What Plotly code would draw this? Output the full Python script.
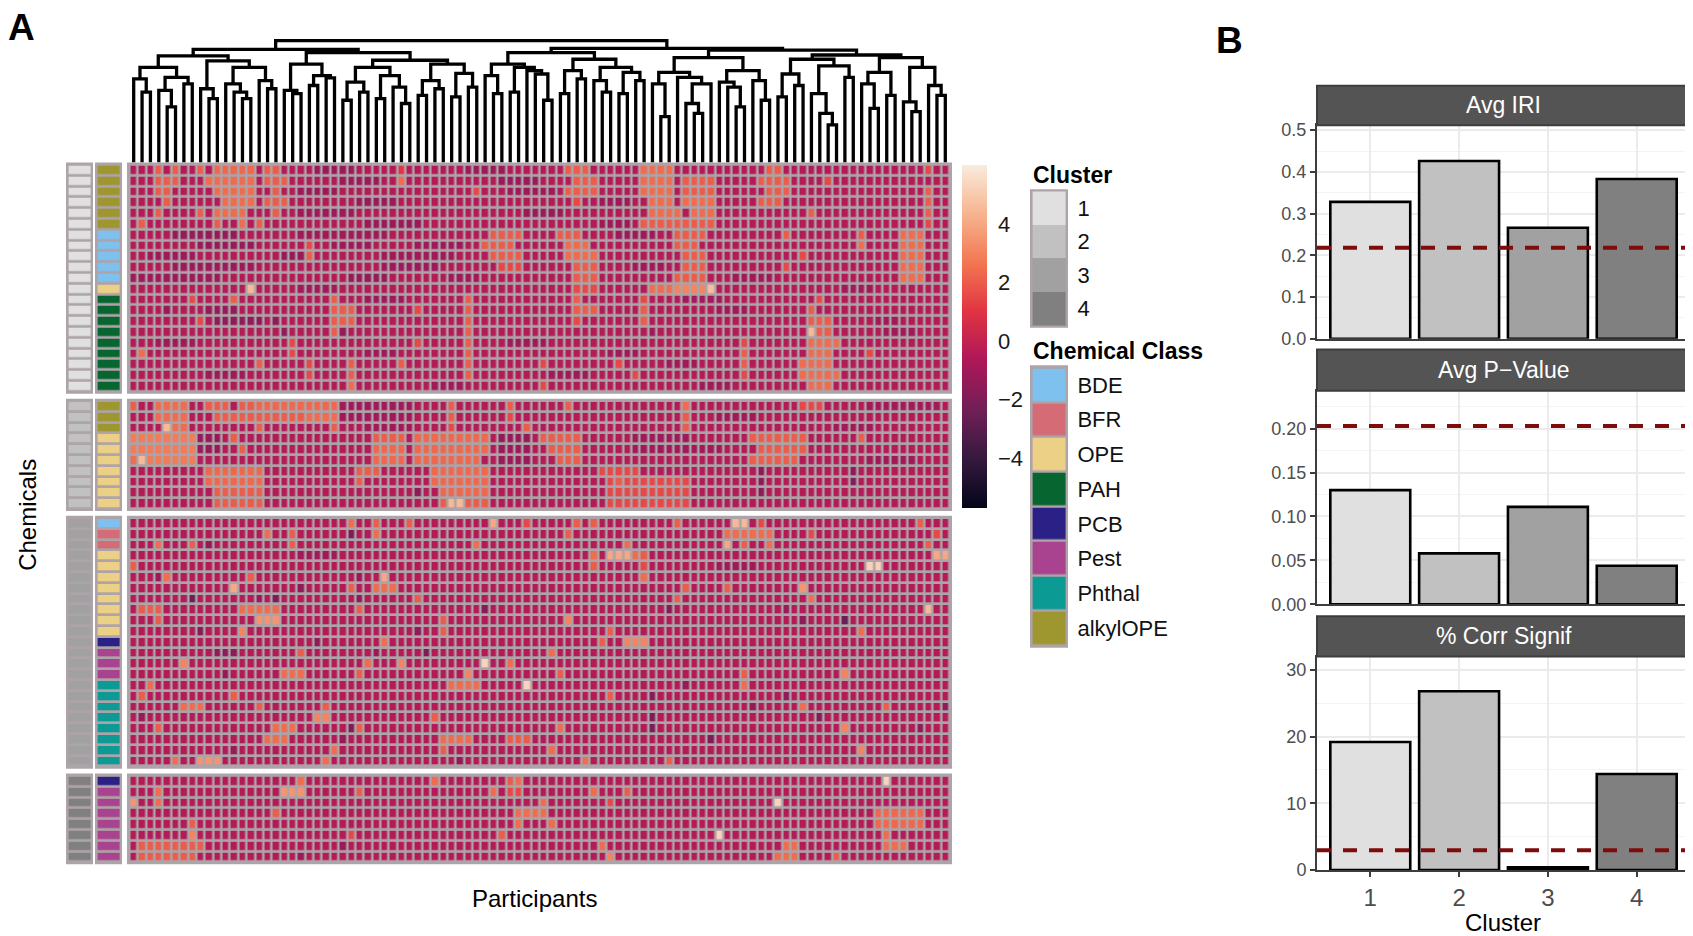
"""Clustered exposure heatmap (panel A) with per-cluster summary bars (panel B)."""
import plotly.graph_objects as go

W, H = 1693, 936
OFF = 8            # the page body margin shifts the figure by this many px
FONT = "Liberation Sans, Arial, sans-serif"

# ---- data -----------------------------------------------------------------
N_COLS = 98                      # participants
CLUSTERS = ["1", "2", "3", "4"]
CLUSTER_COLORS = ["#e0e0e0", "#c1c1c1", "#a1a1a1", "#808080"]
CLASSES = ["BDE", "BFR", "OPE", "PAH", "PCB", "Pest", "Phthal", "alkylOPE"]
CLASS_COLORS = ["#7fc1ee", "#d56b75", "#ecd085", "#07652f",
                "#2b2085", "#a9438f", "#0c9a95", "#9e962f"]

ROW_CLASSES = [
    ["alkylOPE"] * 6 + ["BDE"] * 5 + ["OPE"] + ["PAH"] * 9,
    ["alkylOPE"] * 3 + ["OPE"] * 7,
    ["BDE"] + ["BFR"] * 2 + ["OPE"] * 8 + ["PCB"] + ["Pest"] * 3 + ["Phthal"] * 8,
    ["PCB"] + ["Pest"] * 7,
]

BASE_Z = -0.45   # value of cells not listed below
# per row: "col:z" or "from-to:z"
CELLS_C1 = [
    "3:2 5:2 8:2 10-14:2.3 16-17:2 22-26:-1.2 32:1 40-44:-1.1 52-54:2 61-64:2.4 76-77:2 95:1.5",
    "3-5:2 9-14:2.4 16-18:2 25-29:-1.1 32:2.4 44-48:-1.2 53-55:2 61-64:2.4 66-69:2 75-78:2 83:1.5",
    "3-4:2 10-14:2.4 17:2 20-24:-1.2 41:1.5 45-50:-1.1 52-55:2 61-64:2.4 66-69:2 76-78:2 95:2",
    "4:2 11-14:2.4 16-18:2 27-31:-1.2 53:1.5 56-59:-1.1 62-64:2.4 66-69:2.4 75-77:2 95:2",
    "3:2 8:2 10-13:2.4 17:2 20-26:-1.1 47-51:-1.2 62-65:2.4 67-69:2.4 81:2 95:2",
    "1:2 10:2 13:2.4 15:2 28-34:-1.2 56-59:-1.1 61-65:2 66-69:2 95:1.5",
    "5-12:-1.3 20-30:-1 43-46:2 51-53:2 58-62:-1.1 65-68:2 78:2 87:2 92-94:2.4",
    "8-14:-1.3 21:1.5 24-28:-1.1 34-39:-1.1 42-45:2 52-54:2.4 65-67:2 87:2.4 92-94:2.4",
    "2-7:-1.1 18-20:-1.3 21:2 30-38:-1 43-46:2 52-55:2.4 66-68:2 80:1.5 92-94:2.4",
    "5-14:-1.1 30-36:-1.1 44-46:1.5 53-55:2 60-63:-1 66-68:2 78:1.5 92-94:2.4",
    "0-10:-1.1 26-30:-1.3 38-41:-1 53-55:2 65-68:2 72-76:-1 92-94:2.4",
    "14:4.5 20-24:-1 53-55:1.5 62-64:2.4 65-68:3 69:4.6 85-88:-1",
    "7:1.5 12:2 24:2 28-32:-1.1 40:2 53:2 61:1.5 66-70:-1 82:1.5",
    "4:-1.3 9-12:-1.3 24-26:2 34:1.5 40:2 53-55:2 61:2 70-73:-1 81:2",
    "8:1.5 10-15:-1.5 17:-1.5 24-26:2 40:2 53:1.5 61:2 81-83:2 89-91:-1",
    "18:-1.5 24:2 25:-1.3 40:2 62:-1.1 81:4.5 82-83:2 90-93:-1",
    "3-7:-1 19:1.5 34:1.5 40:2 45-49:-1 73:1.5 81-84:2.4",
    "1:2.4 19:1.5 28-31:-1 40:2 57-60:-1 73:2 81-83:2.4 88:1.5",
    "15:2 21:1.5 26:2 32:2 40:2 49:1.5 58:1.5 64-67:-1 73:2 80-83:2.4",
    "9-13:-1 21:1.5 26:2 40:2 50-54:-1 60:1.5 73:1.5 80-84:2.4",
    "26:2.4 36-39:-1 49:1.5 68-71:-1 81-83:2.4",
]
CELLS_C2 = [
    "0:2 3-6:2.4 9-11:2 13-14:2 15-24:2.3 25-33:-1 38:2 45:2 52:2 66:2.4 80-82:1.5 88-96:-0.9",
    "3-6:2.4 10-14:2 15-20:2 21-24:2.4 25-33:-1 38:2 45:1.5 66:2 70-74:-1",
    "4:4.5 5-6:2.4 15:2 24:2 28-33:-1 38:1.5 47:2 66:2 84-88:-1",
    "0-7:2.8 8-10:-1.3 12:2 29-32:2 34-42:2.3 44-47:-1.3 49-53:2 60-66:-1 74-80:2 87:2",
    "0-7:2.8 8-10:-1.3 13:2 29-32:2.3 34-42:2.3 44-47:-1.2 50-53:2 60-70:-1 75-80:2",
    "0:2.4 1:4.5 2-7:2.8 29-32:2.3 34-41:2.3 44-47:-1.2 51-53:2 74-79:2 88-93:-1",
    "9-15:2.3 27-29:2 36-42:2.3 56-60:1.5 75:-1.6 86:-1.6",
    "9-15:2.3 27:2 36-42:2.3 57-66:1.5 58:2 75:-1.6 86:-1.9",
    "10-15:2 34:-1.6 37-42:2.3 57-66:1.5 75:-1.6",
    "10-14:2 15:2 37:2 38-39:4.5 40-42:2 57-66:1.5",
]
CELLS_C3 = [
    "26:2.4 29:2 33:2 43:4 47:1.5 53:2 55:2 65:2 72-73:4.5 75:1.5 94:2",
    "16:2.4 19:2 26:-2 29:2.4 52:2 71-73:2.4 74-76:2.4 81:1.5 96:1.5",
    "3:2.4 7:2 9:-1.5 19:2 41:2.4 59:2.4 71:4 73:2 76:2.4 95:2",
    "20-24:-1 55:2.4 57-59:4 60:2.4 61:2 96-97:4",
    "0:2 55:2 61:1.5 70-74:-1 88-89:5.2",
    "3:-1.2 4:2.4 14:2 27:-1.2 30:4 61:2.4",
    "12:4 20:-1.5 26:2 29-31:2.4 66:2 71:2 80:3.5",
    "7:-2.5 15:-1.2 17:-2 27:-1.5 34:2 65:2 81:2.4",
    "1-3:2 13-17:2.4 27:2 42:-1.8 64:-1.8 78:-1.2 95:4.5",
    "3:2 15-17:3.5 37:2 52:3 80:-1.5 85:-2.5",
    "8:-1.8 13:3 34:-1.5 37:2 57:2 87:2.4",
    "22:-1.5 30:2.4 56:2 59-61:3",
    "10-12:-1.5 20:2 29:-1.2 35:-2 50:2.4",
    "6:3 28:2.4 32:3 42:5.3 45:2.4",
    "11:-1.3 18-20:2.4 27:2 40:3 51:2 73:2 85:3",
    "2:2.4 38-41:2.4 47:5.3 66:-1.2 73:2.4",
    "1:2 12:2 57:2 62:-1.8 78:-1.5",
    "6-8:2.4 15:2 23:2 74:-1.5 80:2.4 90:2 97:-1.5",
    "1:-1.2 22-23:3 36:2 62:-2 82:-1.8",
    "3:2 17-19:2.4 26:-2 27:2 51:2.4 62:-2 85:3 94:-1.5",
    "16-18:2.4 25:-1.3 37-40:2.4 45-47:2 69:-2",
    "12:-1.2 24:2.4 37:2 50:2.4 87:3",
    "5:2.4 8-10:3.5 23:2.4 39:-1.3 54:2.4 64:2",
]
CELLS_C4 = [
    "20:2.4 36:2.4 45:2 46:2.4 90:5.3",
    "3:2.4 18-20:3.5 27:2 43:2.4 45-46:1.5 55:2.4 59:2",
    "0:3.5 3:2.4 49:2.4 57:1.5 77:5.3",
    "17:2 46-49:2.4 89-94:2.3",
    "7:2 46:2.4 50:2.4 89-94:2.3",
    "7:3 26:1.5 44:2 70:5.3 90:2.4",
    "1-8:2 25:-1.2 56:2.4 78-79:2.4 90-92:2.4",
    "1-7:2 20:-1.2 57:3 77-79:2.4 84:2",
]
CELLS = [CELLS_C1, CELLS_C2, CELLS_C3, CELLS_C4]

# participant dendrogram: [left, right, height]; ints are leaf columns
TREE = [
    [[[[0, [1, 2, 215], 255], [[3, [4, 5, 170], 220], [6, 7, 240], 260], 290],
      [[8, [9, 10, 195], 225],
       [[11, [12, [13, 14, 195], 215], 240], [15, [16, 17, 225], 250], 290], 310], 325],
     [[[18, [19, 20, 210], 220], [[21, 22, 235], [23, 24, 258], 265], 300],
      [[[[25, 26, 190], [27, 28, 215], 245], [[29, 30, 195], [31, [32, 33, 180], 230], 265], 290],
       [[[34, 35, 205], [36, 37, 225], 250], [[38, 39, 200], [40, 41, 230], 272], 300], 312], 335],
     345],
    [[[[42, [43, 44, 210], 265], [[45, 46, 215], [47, [48, [49, 50, 190], 270], 280], 290], 300],
      [[[51, 52, 210], [53, 54, 255], 280],
       [[55, [56, 57, 215], 250], [[58, 59, 210], [60, 61, 250], 275], 290], 315], 335],
     [[[[62, [63, 64, 140], 240], [65, [[66, [67, 68, 150], 180], 69, 240], 260], 275],
       [[70, [71, [72, 73, 170], 230], 245], [74, [75, 76, 190], 250], 280], 320],
      [[[[77, 78, 200], [79, 80, 235], 270], [[81, [82, [83, 84, 115], 150], 210], [85, 86, 260], 295], 315],
       [[[87, [88, 89, 165], 240], [90, 91, 205], 275],
        [[92, [93, 94, 155], 185], [95, [96, 97, 205], 235], 290], 320], 328], 343],
     348],
    372,
]

# panel B
METRICS = ["Avg IRI", "Avg P\u2212Value", "% Corr Signif"]
AVG_IRI = [0.328, 0.426, 0.266, 0.383]
AVG_P = [0.130, 0.058, 0.111, 0.044]
PCT_CORR = [19.2, 26.8, 0.4, 14.4]
METRIC_VALUES = [AVG_IRI, AVG_P, PCT_CORR]
NULL_LEVEL = [0.218, 0.203, 2.95]

ROCKET = [[0.0, "#03051a"], [1 / 7, "#35193e"], [2 / 7, "#701f57"], [3 / 7, "#ad1759"],
          [4 / 7, "#e13342"], [5 / 7, "#f37651"], [6 / 7, "#f6b48f"], [1.0, "#faebdd"]]
Z_MIN, Z_MAX = -5.7, 6.0


# ---- helpers (positions are given as page pixels) ------------------------
def fx(p):
    return (p - OFF) / W


def fy(p):
    return 1 - (p - OFF) / H


def xdom(a, b):
    return [fx(a), fx(b)]


def ydom(top, bottom):
    return [fy(bottom), fy(top)]


def parse_rows(specs):
    z = []
    for spec in specs:
        row = [BASE_Z] * N_COLS
        for tok in spec.split():
            cols, val = tok.split(":")
            a, _, b = cols.partition("-")
            for c in range(int(a), int(b or a) + 1):
                row[c] = float(val)
        z.append(row)
    return z


def step_scale(colors):
    n = len(colors)
    out = []
    for i, c in enumerate(colors):
        out += [[i / n, c], [(i + 1) / n, c]]
    return out


def tree_lines(node, xs, ys):
    if isinstance(node, int):
        return float(node), 0.0
    left, right, h = node
    xl, hl = tree_lines(left, xs, ys)
    xr, hr = tree_lines(right, xs, ys)
    xs += [xl, xl, xr, xr, None]
    ys += [hl, h, h, hr, None]
    return (xl + xr) / 2, h


def rect(x0, x1, top, bottom, **kw):
    return dict(type="rect", xref="paper", yref="paper",
                x0=fx(x0), x1=fx(x1), y0=fy(bottom), y1=fy(top), **kw)


FRAME = "#ada3a8"
HIDDEN = dict(visible=False, fixedrange=True)
fig = go.Figure()
lay = {}
shapes = []

# ---- panel A: heatmap blocks ----------------------------------------------
X_MAIN, X_CLU, X_CLS = (127, 952), (66, 93), (95, 122)
BLOCK_TOPS = [160, 400, 519, 781]
ROW_PX = 10.98
lay["xaxis"] = dict(HIDDEN, domain=xdom(*X_MAIN), range=[-0.8, N_COLS - 0.2])
lay["xaxis2"] = dict(HIDDEN, domain=xdom(*X_CLU), range=[-0.62, 0.62])
lay["xaxis3"] = dict(HIDDEN, domain=xdom(*X_CLS), range=[-0.62, 0.62])

for k, specs in enumerate(CELLS):
    n = len(specs)
    top = BLOCK_TOPS[k]
    bottom = top + (n + 0.4) * ROW_PX
    ax = "yaxis" if k == 0 else f"yaxis{k + 1}"
    yref = "y" if k == 0 else f"y{k + 1}"
    lay[ax] = dict(HIDDEN, domain=ydom(top, bottom), range=[n - 0.3, -0.7])
    rows = list(range(n))
    fig.add_trace(go.Heatmap(
        z=parse_rows(specs), x=list(range(N_COLS)), y=rows, coloraxis="coloraxis",
        xgap=2.5, ygap=2.7, xaxis="x", yaxis=yref, hoverinfo="skip"))
    fig.add_trace(go.Heatmap(
        z=[[k] for _ in rows], x=[0], y=rows, colorscale=step_scale(CLUSTER_COLORS),
        zmin=-0.5, zmax=len(CLUSTERS) - 0.5, showscale=False,
        ygap=2.7, xaxis="x2", yaxis=yref, hoverinfo="skip"))
    fig.add_trace(go.Heatmap(
        z=[[CLASSES.index(c)] for c in ROW_CLASSES[k]], x=[0], y=rows,
        colorscale=step_scale(CLASS_COLORS), zmin=-0.5, zmax=len(CLASSES) - 0.5,
        showscale=False, ygap=2.7, xaxis="x3", yaxis=yref, hoverinfo="skip"))
    for x0, x1 in (X_MAIN, X_CLU, X_CLS):
        shapes.append(rect(x0, x1, top, bottom, layer="below",
                           fillcolor=FRAME, line_width=0))

# dendrogram
dx, dy = [], []
tree_lines(TREE, dx, dy)
lay["yaxis5"] = dict(HIDDEN, domain=ydom(34, 160), range=[0, 378])
fig.add_trace(go.Scatter(x=dx, y=dy, mode="lines", xaxis="x", yaxis="y5",
                         line=dict(color="black", width=3.3), hoverinfo="skip",
                         showlegend=False))

# colour bar
fig.update_layout(coloraxis=dict(
    colorscale=ROCKET, cmin=Z_MIN, cmax=Z_MAX,
    colorbar=dict(x=fx(962), xanchor="left", xpad=0, ypad=0,
                  y=fy(337), yanchor="middle", len=349 / H, lenmode="fraction",
                  thickness=25, thicknessmode="pixels", outlinewidth=0,
                  tickvals=[-4, -2, 0, 2, 4],
                  ticktext=["\u22124", "\u22122", "0", "2", "4"],
                  ticks="outside", ticklen=7, tickcolor="rgba(0,0,0,0)",
                  tickfont=dict(family=FONT, size=22, color="#1a1a1a"))))

# legends drawn as small key heatmaps with labels on the right
LEG_X = (1030, 1068)
for ax_x, ax_y, top, bottom, labels, colors, gap in (
        ("xaxis4", "yaxis6", 187, 328, CLUSTERS, CLUSTER_COLORS, 0),
        ("xaxis5", "yaxis7", 366, 653, CLASSES, CLASS_COLORS, 2.5)):
    n = len(labels)
    xr, yr = ax_x.replace("axis", ""), ax_y.replace("axis", "")
    lay[ax_x] = dict(HIDDEN, domain=xdom(*LEG_X), range=[-0.58, 0.58], anchor=yr)
    lay[ax_y] = dict(domain=ydom(top, bottom), range=[n - 0.43, -0.57], anchor=xr,
                     side="right", tickvals=list(range(n)), ticktext=labels,
                     ticks="outside", ticklen=4, tickcolor="rgba(0,0,0,0)",
                     showgrid=False, zeroline=False, showline=False, fixedrange=True,
                     tickfont=dict(family=FONT, size=22, color="#111111"))
    fig.add_trace(go.Heatmap(
        z=[[i] for i in range(n)], x=[0], y=list(range(n)), colorscale=step_scale(colors),
        zmin=-0.5, zmax=n - 0.5, showscale=False, ygap=gap, xaxis=xr, yaxis=yr,
        hoverinfo="skip"))
    shapes.append(rect(LEG_X[0], LEG_X[1], top, bottom, layer="below",
                       fillcolor=FRAME, line_width=0))

annotations = [
    dict(text="<b>Cluster</b>", x=fx(1031), y=fy(173), xanchor="left", font_size=23),
    dict(text="<b>Chemical Class</b>", x=fx(1031), y=fy(352), xanchor="left", font_size=23),
    dict(text="<b>A</b>", x=fx(21), y=fy(23), font_size=37),
    dict(text="<b>B</b>", x=fx(1229), y=fy(36), font_size=37),
    dict(text="Chemicals", x=fx(28), y=fy(518), textangle=-90, font_size=24),
    dict(text="Participants", x=fx(534), y=fy(908), font_size=24),
    dict(text="Cluster", x=fx(1503), y=fy(932), font_size=24),
]

# ---- panel B: faceted bars --------------------------------------------------
B_X = (1317, 1690)
STRIPS = [(82, 122), (350, 392), (621, 662)]
PANELS = [(122, 339), (392, 609), (662, 879)]
Y_RANGES = [[0, 0.512], [0, 0.243], [0, 32.0]]
Y_DTICK = [0.1, 0.05, 10]
Y_FMT = [".1f", ".2f", "d"]
AXIS_LINE = "#3d3d3d"
TICKFONT = dict(family=FONT, size=18, color="#4d4d4d")

for i, metric in enumerate(METRICS):
    xa, ya = f"xaxis{6 + i}", f"yaxis{8 + i}"
    xr, yr = f"x{6 + i}", f"y{8 + i}"
    last = i == len(METRICS) - 1
    lay[xa] = dict(domain=xdom(*B_X), range=[0.4, 4.6], anchor=yr, fixedrange=True,
                   tickvals=[1, 2, 3, 4], ticktext=CLUSTERS, showticklabels=last,
                   ticks="outside" if last else "", ticklen=5, tickwidth=2,
                   tickcolor=AXIS_LINE, showline=True, mirror=True, linecolor=AXIS_LINE,
                   linewidth=2, showgrid=True, gridcolor="#ebebeb", gridwidth=1.6,
                   zeroline=False, tickfont=dict(family=FONT, size=24, color="#4d4d4d"))
    lay[ya] = dict(domain=ydom(*PANELS[i]), range=Y_RANGES[i], anchor=xr, fixedrange=True,
                   dtick=Y_DTICK[i], tick0=0, tickformat=Y_FMT[i], ticks="outside",
                   ticklen=5, tickwidth=2, tickcolor=AXIS_LINE, showline=True,
                   mirror=True, linecolor=AXIS_LINE, linewidth=2, zeroline=False,
                   showgrid=True, gridcolor="#ebebeb", gridwidth=1.6,
                   minor=dict(dtick=Y_DTICK[i] / 2, showgrid=True, gridcolor="#f3f3f3",
                              gridwidth=0.9),
                   tickfont=TICKFONT)
    fig.add_trace(go.Bar(x=[1, 2, 3, 4], y=METRIC_VALUES[i], width=0.9, xaxis=xr, yaxis=yr,
                         marker=dict(color=CLUSTER_COLORS, line=dict(color="black", width=2.6)),
                         showlegend=False, hoverinfo="skip"))
    fig.add_trace(go.Scatter(x=[0.4, 4.6], y=[NULL_LEVEL[i]] * 2, mode="lines",
                             xaxis=xr, yaxis=yr, showlegend=False, hoverinfo="skip",
                             line=dict(color="#7d0c0c", width=4, dash="14px,12px")))
    s0, s1 = STRIPS[i]
    shapes.append(rect(B_X[0], B_X[1], s0, s1, fillcolor="#545454",
                       line=dict(color=AXIS_LINE, width=2)))
    annotations.append(dict(text=metric, x=fx((B_X[0] + B_X[1]) / 2), y=fy((s0 + s1) / 2),
                            font=dict(family=FONT, size=23, color="white")))

for a in annotations:
    a.setdefault("xref", "paper")
    a.setdefault("yref", "paper")
    a.setdefault("showarrow", False)
    a.setdefault("xanchor", "center")
    a.setdefault("yanchor", "middle")
    size = a.pop("font_size", 20)
    a.setdefault("font", dict(family=FONT, size=size, color="black"))

fig.update_layout(
    width=W, height=H, margin=dict(l=0, r=0, t=0, b=0),
    paper_bgcolor="white", plot_bgcolor="rgba(0,0,0,0)",
    showlegend=False, shapes=shapes, annotations=annotations,
    font=dict(family=FONT), **lay)

fig.write_html("out.html")
